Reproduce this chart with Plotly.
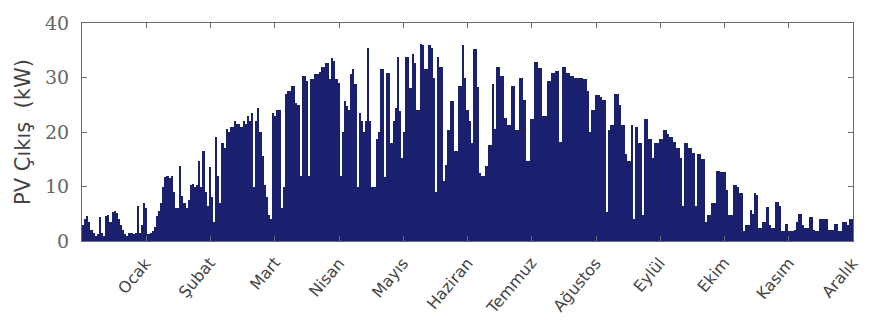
import plotly.graph_objects as go

# Daily peak PV output (kW), one list per month
ocak = [3, 4, 4.5, 3.5, 2, 1.5, 1, 1.2, 4.4, 1.5, 1, 4.5, 4.7, 3.5, 5.3, 5.5, 5.2, 4, 2.9, 2,
        1.2, 1, 1.5, 1.5, 1.2, 1.5, 6.5, 1.5, 3, 7, 6]
subat = [1.2, 1.5, 1.8, 2.5, 4.5, 5.5, 7, 10, 11.8, 12, 11.5, 12, 9, 6, 6, 13.8, 8.2, 7, 6,
         7.5, 10.3, 10.5, 10, 10.3, 14.7, 10, 16.5, 9]
mart = [6.5, 13.5, 8, 3.5, 19, 12, 7, 18, 17, 20.6, 20, 20.9, 21, 22, 21.5, 21.5, 21, 22, 21.5,
        23, 22, 23.5, 10, 22, 24.4, 20, 15.6, 10.3, 8, 4.7, 4]
nisan = [23.5, 23, 24, 24, 6, 10, 27, 27.6, 27.5, 28.5, 28.5, 25.3, 25, 12, 30.3, 30.3, 29.4,
         12, 29.7, 29.7, 30.6, 30.6, 31, 32, 32, 32.6, 32.6, 29.7, 33.5, 33]
mayis = [29.7, 29, 12, 20, 25.6, 24.7, 24, 30.6, 31.5, 28.8, 10, 23.5, 22, 20, 22, 35.5, 22, 10,
         10, 18.8, 20, 31.5, 31.5, 11.8, 30.9, 30.9, 18, 22, 24.4, 33.8, 23.8]
haziran = [15.3, 20, 33.8, 33.8, 28, 34.4, 32.6, 24, 24, 36.2, 36, 31.5, 31.5, 35.9, 35.5, 30,
           9, 33.8, 32, 32, 11, 14, 20.3, 25.6, 25.6, 16.5, 16.5, 28.5, 28.5, 35.9]
temmuz = [30, 24, 22, 18, 35.3, 35.3, 28.2, 12.4, 12, 12, 13.8, 17.6, 17.6, 28.8, 20.6, 32, 32,
          30.3, 30.3, 22.6, 21.2, 21.2, 28.5, 28.5, 20.3, 20.3, 30, 30, 25.9, 14.7, 14.7]
agustos = [22.4, 22.4, 32.9, 32.9, 31.8, 31.8, 23, 23, 29.4, 29.4, 30.9, 30.9, 31.2, 31.2, 18.2,
           32, 32, 30.9, 30.9, 30.3, 30.3, 30, 30, 30, 30, 29.7, 29.7, 27.6, 20, 24.1, 24.1]
eylul = [26.8, 26.8, 26.5, 25.9, 25.9, 5.3, 20.3, 21.2, 21.2, 27, 27, 25, 21.2, 21.2, 15.9, 14.7,
         14.7, 21.2, 4.1, 20.9, 17.9, 17.9, 4.7, 22.4, 22.4, 18.8, 18.8, 15.3, 17.9, 17.9]
ekim = [18.8, 18.8, 20.3, 20.3, 19.7, 19.1, 19.1, 18.2, 17.1, 17.1, 15.3, 6.5, 17.9, 17.9, 17.1,
        17.1, 16.2, 6.5, 15.9, 15.9, 15, 15, 3.5, 4.7, 4.7, 7, 7, 12.9, 12.9, 12.6, 12.6]
kasim = [12.6, 9.4, 4.7, 4.7, 10.3, 10.3, 10, 8.8, 8.8, 1.8, 2.9, 3, 5.6, 5, 8.8, 8.5, 2.4, 2.4,
         3.5, 3.5, 6.2, 3, 2.4, 2.4, 7.1, 7.1, 6.5, 1.8, 1.8, 3.2]
aralik = [1.8, 1.8, 1.8, 2, 3.5, 5, 5, 3, 2.4, 2.4, 4.4, 4.4, 2, 1.8, 1.8, 4.1, 4.1, 4.1, 4.1,
          2.1, 2.1, 2.1, 3.2, 3.2, 1.8, 1.8, 3.5, 3.5, 2.9, 4.1, 4.1]

month_names = ["Ocak", "Şubat", "Mart", "Nisan", "Mayıs", "Haziran",
               "Temmuz", "Ağustos", "Eylül", "Ekim", "Kasım", "Aralık"]
y_ticks = [0, 10, 20, 30, 40]

pv = (ocak + subat + mart + nisan + mayis + haziran + temmuz + agustos
      + eylul + ekim + kasim + aralik)
days = [d + 0.5 for d in range(len(pv))]
n_days = len(pv)
month_ticks = [n_days / 12 * (k + 1) for k in range(12)]

fig = go.Figure(go.Bar(
    x=days, y=pv, width=1.0,
    marker=dict(color="#1a1f6e", line=dict(width=0)),
    showlegend=False,
))

# Slanted month names, each ending at its tick
for tx, name in zip(month_ticks, month_names):
    fig.add_annotation(
        x=tx, y=0, xref="x", yref="paper",
        text=name, showarrow=False, textangle=-50,
        xanchor="right", yanchor="top", xshift=12, yshift=-10,
        font=dict(family="DejaVu Sans", size=16, color="#444444"),
    )

axis_line = "#6b6b6b"
fig.update_layout(
    width=873, height=320,
    margin=dict(l=82, r=20, t=13, b=79),
    paper_bgcolor="white", plot_bgcolor="white",
    bargap=0,
    xaxis=dict(
        range=[0, n_days], tickvals=month_ticks, showticklabels=False,
        ticks="inside", ticklen=5, tickcolor=axis_line,
        showline=True, linecolor=axis_line, linewidth=1, mirror="ticks",
        showgrid=False, zeroline=False,
    ),
    yaxis=dict(
        range=[0, 40], tickvals=y_ticks,
        ticks="inside", ticklen=5, tickcolor=axis_line,
        showline=True, linecolor=axis_line, linewidth=1, mirror="ticks",
        showgrid=False, zeroline=False, ticklabelstandoff=8,
        tickfont=dict(family="DejaVu Serif", size=19, color="#666666"),
        title=dict(text="PV Çıkış  (kW)", standoff=8,
                   font=dict(family="DejaVu Sans", size=21, color="#444444")),
    ),
)

fig.write_html("out.html")
